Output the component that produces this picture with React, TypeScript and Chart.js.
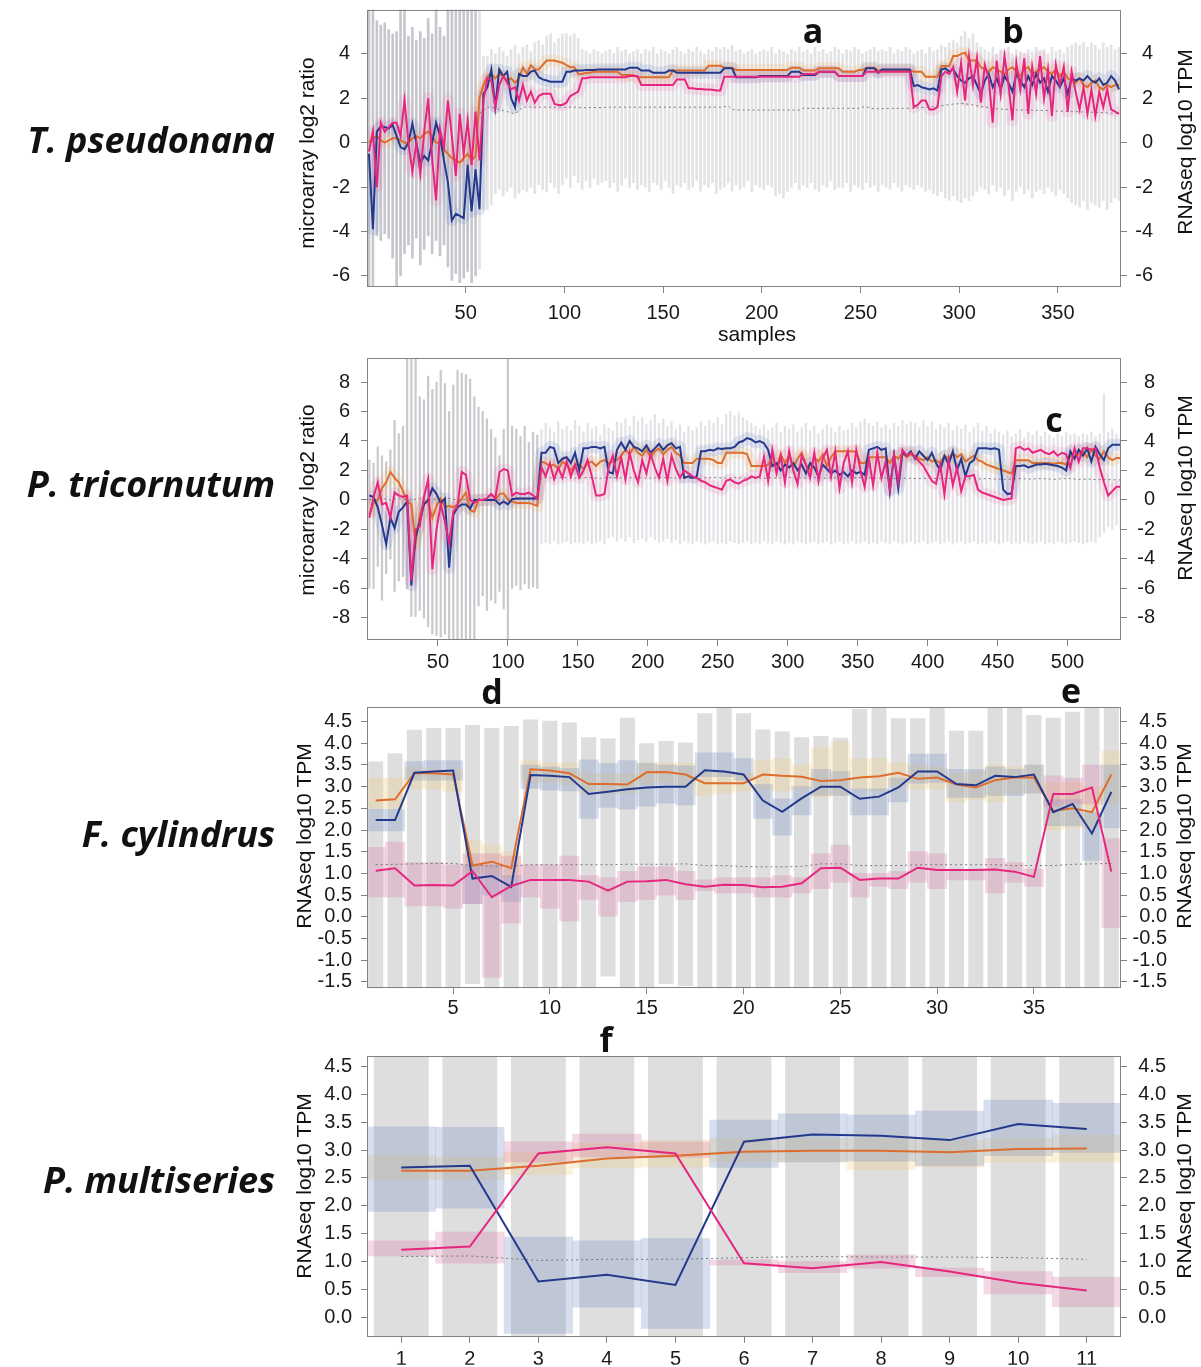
import React, { useEffect, useRef } from "react";
import { Chart, registerables } from "chart.js";

Chart.register(...registerables);

// ---------------- colours ----------------
const BLUE = "rgb(36,56,140)";
const ORANGE = "rgb(222,110,45)";
const PINK = "rgb(230,38,126)";
const MEDIAN = "rgb(120,120,120)";
const BLUE_BAND = "rgba(100,130,195,0.18)";
const ORANGE_BAND = "rgba(240,175,90,0.18)";
const PINK_BAND = "rgba(230,110,165,0.16)";
const BLUE_BOX = "rgba(110,140,195,0.28)";
const ORANGE_BOX = "rgba(245,200,110,0.25)";
const PINK_BOX = "rgba(215,115,160,0.28)";
const GREY_BAR = "rgb(222,222,222)";

const sampleIndex = (n: number, step: number) => Array.from({ length: n }, (_, i) => 1 + i * step);

// ================= Panel 1 : T. pseudonana (every 2nd sample) =================
const P1_X = sampleIndex(191, 2);
const P1_SPLIT = 57;
const P1_BLUE = [
  -0.5, -3.9, 0.5, 0.75, 0.7, 0.65, 0.8, 0.3, -0.2, -0.3,
  0.0, 0.85, 0.0, -0.9, -0.6, -0.8, 0.0, 0.9, 0.3, -0.8,
  -1.8, -3.5, -3.2, -3.3, -3.4, -1.0, -3.1, -1.2, -3.0, 2.2,
  2.5, 3.3, 1.6, 3.3, 3.0, 3.2, 2.0, 1.6, 3.1, 3.0,
  3.0, 3.2, 3.25, 2.95, 2.85, 2.8, 2.75, 2.75, 2.75, 2.75,
  3.2, 3.2, 3.25, 3.25, 3.25, 3.28, 3.28, 3.28, 3.3, 3.3,
  3.3, 3.3, 3.3, 3.3, 3.3, 3.3, 3.38, 3.38, 3.38, 3.25,
  3.25, 3.25, 3.15, 3.15, 3.15, 3.15, 3.25, 3.25, 3.15, 3.15,
  3.15, 3.15, 3.15, 3.15, 3.15, 3.15, 3.15, 3.15, 3.15, 3.15,
  3.35, 3.35, 3.35, 2.95, 2.95, 2.95, 2.95, 2.95, 2.95, 3.0,
  3.0, 3.0, 3.0, 3.0, 3.0, 3.0, 3.0, 3.2, 3.2, 3.2,
  3.05, 3.05, 3.05, 3.05, 3.2, 3.2, 3.2, 3.2, 3.2, 3.0,
  3.0, 3.0, 3.0, 3.0, 3.0, 3.0, 3.35, 3.35, 3.35, 3.15,
  3.3, 3.3, 3.3, 3.3, 3.3, 3.3, 3.3, 3.3, 2.55, 2.6,
  2.5, 2.45, 2.4, 2.45, 2.35, 3.3, 3.35, 3.2, 3.3, 3.0,
  2.8, 2.7, 2.9, 3.0, 2.6, 2.2, 2.8, 3.1, 2.5, 2.9,
  2.4, 3.0, 2.7, 2.3, 3.1, 2.8, 2.5, 3.0, 2.6, 3.1,
  2.7, 2.9, 2.3, 3.0, 2.8, 2.5, 2.9, 2.2, 2.9, 2.8,
  2.9, 2.8, 3.0, 2.8, 2.7, 2.9, 2.6, 2.7, 3.0, 2.8,
  2.4,
];
const P1_ORANGE = [
  0.0, 0.2, 0.3, 0.1, 0.0, 0.1, 0.2, 0.2, 0.1, 0.0,
  0.0, 0.2, 0.3, 0.2, 0.4, 0.5, 0.3, 0.0, 0.0, -0.3,
  -0.5, -0.7, -0.8, -0.9, -0.7, -0.5, -0.8, -0.6, 2.0, 2.6,
  3.0, 3.1, 2.9, 3.1, 3.0, 2.8, 2.9, 2.7, 2.9, 3.4,
  3.1, 3.5, 3.3, 3.3, 3.5, 3.7, 3.7, 3.7, 3.65, 3.6,
  3.5, 3.4, 3.4, 3.1, 3.1, 3.15, 3.15, 3.2, 3.2, 3.2,
  3.2, 3.2, 3.2, 3.2, 3.05, 3.05, 3.05, 3.05, 2.95, 2.95,
  2.95, 2.95, 2.95, 2.95, 2.95, 2.95, 2.95, 3.25, 3.25, 3.25,
  3.25, 3.25, 3.25, 3.25, 3.25, 3.25, 3.47, 3.47, 3.47, 3.47,
  3.38, 3.38, 3.38, 3.27, 3.27, 3.27, 3.27, 3.27, 3.27, 3.27,
  3.27, 3.27, 3.27, 3.27, 3.27, 3.27, 3.27, 3.38, 3.38, 3.38,
  3.25, 3.25, 3.25, 3.25, 3.35, 3.35, 3.35, 3.35, 3.35, 3.35,
  3.2, 3.2, 3.2, 3.2, 3.27, 3.27, 3.38, 3.38, 3.38, 3.25,
  3.27, 3.27, 3.27, 3.27, 3.27, 3.27, 3.27, 3.27, 3.2, 3.2,
  3.2, 2.97, 2.97, 2.97, 2.97, 3.45, 3.45, 3.45, 3.9, 3.9,
  4.0, 4.05, 3.7, 3.7, 3.7, 3.4, 3.3, 3.2, 3.4, 3.3,
  3.2, 3.1, 3.3, 3.4, 3.2, 3.0, 3.3, 3.4, 3.1, 3.2,
  3.3, 3.4, 3.2, 3.1, 3.3, 3.0, 3.2, 2.9, 2.8, 2.7,
  2.9, 2.6, 2.5, 2.7, 2.8, 2.5, 2.4, 2.6, 2.5, 2.6,
  2.6,
];
const P1_PINK = [
  -0.4, 0.5, -2.0, 0.9, 0.5, 0.7, 0.9, 0.9, 0.3, 1.9,
  0.0, -1.3, 0.0, -1.4, 0.5, 2.0, -0.7, -2.6, 0.6, -0.2,
  1.9, 0.3, -1.5, 1.3, -0.5, 1.0, -1.0, 1.4, -0.8, 1.9,
  2.9, 2.8, 1.6, 2.6, 3.0, 2.7, 2.4, 2.5, 1.9, 2.6,
  1.9, 2.3, 1.8, 2.1, 2.2, 2.2, 2.2, 1.75, 1.7, 1.7,
  1.8, 2.1, 2.2, 2.3, 2.9, 2.9, 2.95, 2.95, 2.95, 2.95,
  2.95, 2.95, 2.95, 2.95, 2.95, 2.95, 3.0, 3.0, 3.0, 2.6,
  2.6, 2.6, 2.6, 2.6, 2.6, 2.6, 2.6, 2.6, 2.85, 2.85,
  2.85, 2.45, 2.45, 2.42, 2.42, 2.4, 2.4, 2.38, 2.35, 2.35,
  2.97, 2.97, 2.97, 2.97, 2.97, 2.97, 2.97, 2.97, 2.97, 2.97,
  2.97, 2.97, 2.97, 2.97, 2.97, 2.97, 2.97, 2.97, 2.97, 2.97,
  3.1, 3.1, 3.1, 3.1, 3.2, 3.2, 3.2, 3.2, 3.2, 3.0,
  3.0, 3.0, 3.0, 3.0, 3.0, 3.0, 3.2, 3.2, 3.2, 3.2,
  3.2, 3.2, 3.2, 3.2, 3.2, 3.2, 3.2, 3.2, 1.6, 1.7,
  1.9, 1.9, 1.5, 1.5, 1.6, 3.0, 3.2, 3.1, 3.4, 2.3,
  3.6, 1.9, 3.9, 2.6, 3.8, 1.8, 3.5, 2.9, 0.9, 3.7,
  2.2, 3.9, 2.6, 1.0, 3.6, 2.4, 3.8, 1.3, 3.4, 2.2,
  3.9, 2.0, 3.3, 1.2, 3.5, 2.6, 3.4, 1.4, 3.2, 2.3,
  1.5, 2.5, 1.3, 2.4, 1.2, 2.3, 1.6, 2.4, 1.5, 1.4,
  1.3,
];
const P1_MEDIAN: (number | null)[] = [
  null, null, null, null, null, null, null, null, null, null,
  null, null, null, null, null, null, null, null, null, null,
  null, null, null, null, null, null, null, null, 1.32, 1.45,
  1.6, 1.6, 1.55, 1.5, 1.45, 1.4, 1.35, 1.3, 1.45, 1.6,
  1.6, 1.6, 1.6, 1.6, 1.6, 1.6, 1.6, 1.6, 1.6, 1.6,
  1.6, 1.6, 1.6, 1.58, 1.58, 1.58, 1.58, 1.58, 1.58, 1.58,
  1.6, 1.6, 1.6, 1.6, 1.6, 1.6, 1.6, 1.6, 1.6, 1.6,
  1.6, 1.6, 1.6, 1.6, 1.6, 1.6, 1.6, 1.6, 1.6, 1.6,
  1.6, 1.6, 1.6, 1.6, 1.6, 1.6, 1.6, 1.6, 1.6, 1.6,
  1.62, 1.65, 1.5, 1.47, 1.47, 1.47, 1.47, 1.47, 1.47, 1.47,
  1.47, 1.47, 1.47, 1.47, 1.47, 1.47, 1.47, 1.47, 1.47, 1.47,
  1.55, 1.55, 1.55, 1.55, 1.55, 1.55, 1.55, 1.55, 1.55, 1.55,
  1.55, 1.55, 1.55, 1.55, 1.55, 1.6, 1.62, 1.55, 1.53, 1.53,
  1.53, 1.53, 1.55, 1.55, 1.55, 1.55, 1.55, 1.55, 1.55, 1.57,
  1.58, 1.6, 1.6, 1.63, 1.65, 1.66, 1.7, 1.71, 1.74, 1.75,
  1.77, 1.76, 1.72, 1.7, 1.66, 1.64, 1.6, 1.58, 1.55, 1.53,
  1.52, 1.5, 1.5, 1.48, 1.47, 1.47, 1.47, 1.47, 1.46, 1.46,
  1.46, 1.45, 1.45, 1.44, 1.43, 1.42, 1.42, 1.41, 1.4, 1.4,
  1.39, 1.38, 1.38, 1.37, 1.36, 1.35, 1.35, 1.34, 1.33, 1.33,
  1.32,
];
const P1_HI = [
  6.5, 6.5, 5.5, 5.3, 5.4, 5.1, 4.9, 5.0, 6.5, 6.5,
  4.8, 5.2, 4.6, 5.0, 4.7, 5.6, 4.9, 6.5, 5.2, 4.8,
  6.5, 6.5, 6.5, 6.5, 6.5, 6.5, 6.5, 6.5, 6.5, 3.9,
  3.9, 4.2, 4.0, 4.3, 4.1, 3.9, 4.2, 4.4, 4.0, 4.3,
  4.4, 4.1, 4.5, 4.6, 4.4, 4.8, 4.9, 4.5, 4.7, 4.9,
  4.9, 4.8, 4.9, 4.7, 4.2, 4.1, 4.0, 4.2, 4.1, 4.0,
  4.1, 4.2, 4.0, 4.3, 4.1, 4.2, 4.0, 4.1, 4.2, 4.0,
  4.2, 4.1, 4.3, 4.0, 4.2, 4.1, 4.0, 4.2, 4.3, 4.1,
  4.0, 4.2, 4.1, 4.3, 4.1, 4.0, 4.2, 4.1, 4.3, 4.2,
  4.3, 4.2, 4.4, 4.1, 4.2, 4.0, 4.1, 4.2, 4.0, 4.1,
  4.2, 4.1, 4.3, 4.0, 4.2, 4.1, 4.0, 4.2, 4.1, 4.3,
  4.1, 4.2, 4.0, 4.3, 4.1, 4.2, 4.0, 4.1, 4.3, 4.2,
  4.0, 4.2, 4.1, 4.3, 4.2, 4.0, 4.1, 4.2, 4.3, 4.1,
  4.2, 4.1, 4.3, 4.0, 4.2, 4.1, 4.3, 4.2, 4.0, 4.1,
  4.2, 4.0, 4.3, 4.1, 4.2, 4.4, 4.3, 4.5, 4.6, 4.5,
  4.8, 5.0, 4.7, 4.9, 4.5, 4.3, 4.2, 4.1, 4.3, 4.0,
  4.2, 4.1, 4.3, 4.0, 4.2, 4.1, 4.0, 4.2, 4.1, 4.3,
  4.1, 4.2, 4.0, 4.3, 4.1, 4.2, 4.0, 4.3, 4.4, 4.5,
  4.4, 4.5, 4.3, 4.5, 4.4, 4.2, 4.5, 4.3, 4.4, 4.2,
  4.3,
];
const P1_LO = [
  -6.6, -6.6, -4.2, -4.4, -4.1, -4.3, -5.2, -6.6, -6.0, -5.0,
  -4.6, -5.2, -4.3, -5.5, -4.8, -4.2, -5.0, -4.4, -5.1, -4.6,
  -5.6, -6.2, -5.9, -6.3, -6.1, -5.8, -6.3, -6.0, -5.7, -3.0,
  -3.0, -2.8, -2.3, -2.1, -2.4, -2.2, -2.0, -2.5, -2.3, -2.1,
  -2.2, -2.0, -2.3, -1.9, -2.1, -2.2, -1.8, -2.0, -2.3, -1.9,
  -1.6, -2.0, -1.5, -1.8, -2.1, -1.7, -2.0, -1.6, -1.9, -1.8,
  -1.7, -2.0, -1.8, -2.2, -1.9, -1.6, -2.0, -1.8, -2.1, -1.9,
  -2.0, -2.2, -1.8, -1.9, -2.1, -1.7, -2.0, -2.3, -1.9, -2.0,
  -1.8, -2.1, -2.0, -1.7, -2.2, -1.9, -2.0, -1.8, -2.3, -2.1,
  -2.0, -1.8, -2.2, -1.9, -2.1, -2.0, -1.7, -2.2, -1.9, -2.0,
  -2.1, -1.9, -2.0, -2.4, -2.3, -2.5, -2.2, -2.0, -1.8, -2.1,
  -1.9, -2.0, -1.8, -2.1, -2.2, -1.9, -2.0, -1.7, -2.1, -2.0,
  -2.0, -1.8, -2.2, -1.9, -2.0, -2.1, -1.8, -2.0, -1.9, -2.2,
  -1.9, -2.0, -2.1, -1.8, -2.0, -2.2, -1.9, -2.0, -2.1, -1.9,
  -2.0, -2.2, -2.1, -2.3, -2.4, -2.2, -2.5, -2.6, -2.4, -2.6,
  -2.7, -2.5, -2.6, -2.4, -2.2, -2.0, -2.1, -2.3, -1.9, -2.2,
  -2.0, -2.4, -2.1, -2.6, -2.2, -2.0, -2.3, -2.1, -2.5, -2.2,
  -2.1, -2.3, -2.0, -2.2, -2.4, -2.1, -2.3, -2.5, -2.7, -2.8,
  -2.9, -2.6, -3.0, -2.7, -2.8, -2.9, -2.6, -3.0, -2.7, -2.5,
  -2.6,
];
const P1_X_TICKS = [50, 100, 150, 200, 250, 300, 350];
const P1_Y_TICKS = [-6, -4, -2, 0, 2, 4];

// ================= Panel 2 : P. tricornutum (every 3rd sample) =================
const P2_X = sampleIndex(180, 3);
const P2_SPLIT = 122;
const P2_BLUE = [
  0.3, 0.2, -0.5, -1.7, -3.0, -1.2, -1.9, -0.8, -0.5, -0.1,
  -5.8, -2.5, -1.5, -0.3, 0.0, 0.8, 0.4, -0.2, 0.1, -4.6,
  -1.0, -0.5, -0.3, -0.3, -0.6, 0.0, 0.0, 0.0, 0.0, 0.0,
  0.0, -0.3, -0.1, -0.3, 0.05, 0.1, 0.1, 0.1, 0.1, 0.1,
  0.1, 3.2, 3.2, 3.6, 3.5, 2.5, 2.8, 2.9, 2.5, 3.2,
  2.0, 3.5, 3.5, 3.6, 3.6, 3.5, 3.6, 1.9, 1.8, 3.4,
  3.9, 3.4, 4.0, 3.6, 3.5, 3.3, 3.7, 3.2, 3.5, 3.8,
  3.4, 3.7, 3.85, 3.5, 3.6, 1.5, 1.6, 1.5, 1.6, 3.3,
  3.3, 3.4, 3.35, 3.5, 3.45, 3.5, 3.5, 3.6, 3.9, 4.0,
  4.2, 4.1, 3.9, 4.0, 3.85, 3.4, 2.3, 2.5, 2.0, 2.4,
  2.2, 2.5, 2.0, 2.4, 1.8, 2.5, 2.2, 1.6, 2.4, 2.1,
  1.8, 2.0, 1.7, 1.9, 1.6, 2.0, 1.8, 1.9, 1.7, 3.4,
  3.5, 3.6, 3.4, 3.5, 0.6, 3.0, 0.8, 3.2, 3.0, 3.3,
  2.8, 3.3, 3.0, 2.7, 3.2, 2.5, 2.0, 3.0, 2.4, 3.3,
  2.0, 2.8, 1.6, 2.5, 2.7, 3.5, 3.5, 3.5, 3.45, 3.5,
  3.4, 0.7, 0.4, 0.45, 2.3, 2.3, 2.35, 2.2, 2.3, 2.4,
  2.4, 2.45, 2.4, 2.35, 2.3, 2.2, 2.0, 3.3, 2.8, 3.4,
  3.0, 3.5, 2.6, 3.6, 3.1, 2.7, 3.5, 3.75, 3.75, 3.75,
];
const P2_ORANGE = [
  -1.0, -0.2, 0.0, 0.8, 1.2, 1.9, 1.5, 1.2, 0.6, -0.1,
  -0.3, -3.0, -1.0, -0.1, -0.2, -1.2, -0.4, 0.1, -0.5, -0.4,
  -0.5, -0.3, 0.1, 0.5, -0.7, -0.8, 0.0, 0.0, 0.0, 0.0,
  0.0, 0.4, 0.45, 0.0, -0.1, -0.2, -0.2, -0.2, -0.2, -0.3,
  -0.4, 2.6, 2.5, 2.3, 2.4, 2.1, 2.6, 2.4, 2.0, 2.4,
  2.4, 2.1, 2.5, 2.6, 2.3, 2.6, 2.7, 2.5, 2.6, 2.7,
  3.0, 3.4, 3.1, 3.6, 3.2, 3.0, 3.4, 2.9, 3.3, 3.5,
  3.1, 3.4, 3.6, 3.2, 3.0, 2.5, 2.5, 2.5, 2.8, 2.8,
  2.8, 2.8, 2.7, 2.5, 2.5, 3.2, 3.2, 3.2, 3.2, 3.2,
  3.1, 2.3, 2.3, 2.3, 2.3, 2.4, 2.9, 2.2, 3.1, 2.5,
  3.0, 2.2, 2.8, 3.2, 2.4, 2.0, 2.9, 2.6, 3.1, 2.3,
  2.9, 3.3, 3.3, 3.3, 3.3, 3.3, 3.25, 2.5, 2.5, 2.9,
  2.9, 2.9, 2.9, 2.9, 2.5, 3.0, 2.8, 3.2, 2.9, 3.1,
  3.0, 2.8, 2.7, 2.9, 2.6, 2.7, 2.5, 3.0, 2.8, 3.2,
  2.9, 3.1, 2.6, 2.8, 3.0, 2.7, 2.6, 2.4, 2.3, 2.2,
  2.1, 2.0, 1.9, 1.8, 2.7, 2.7, 2.7, 2.7, 2.5, 2.5,
  2.5, 2.5, 2.5, 2.45, 2.5, 2.5, 2.4, 3.0, 3.0, 3.1,
  3.3, 2.9, 3.4, 3.0, 2.8, 3.3, 2.9, 2.7, 2.85, 2.85,
];
const P2_PINK = [
  -1.2, 0.2, 1.2, -0.3, -0.2, -1.2, 0.5, 0.3, 0.2, 0.3,
  -5.5, -2.0, -1.8, 0.2, 1.4, -4.7, -2.0, -0.3, -1.5, -2.9,
  -0.8, -0.4, 1.9, 1.7, 0.0, -0.2, 0.0, 0.0, 0.1, 0.4,
  0.1, 1.9, 2.1, 2.0, 0.3, 0.5, 0.4, 0.4, 0.5, 0.3,
  0.1, 2.2, 1.6, 2.5, 1.4, 2.2, 1.5, 2.6, 1.6, 2.4,
  1.5, 2.0, 2.7, 1.6, 0.3, 0.3, 0.4, 2.2, 3.0, 1.6,
  2.9, 1.4, 3.2, 2.0, 1.2, 2.7, 1.8, 3.1, 2.2, 1.5,
  2.8, 1.3, 3.0, 2.1, 1.5, 2.0, 1.8, 1.6, 1.5, 1.3,
  1.2, 1.0, 0.9, 0.8, 0.7, 1.3, 1.4, 1.2, 1.1, 1.3,
  1.4, 1.6, 1.5, 1.6, 2.9, 1.3, 3.4, 1.8, 3.0, 1.2,
  3.3, 2.0, 1.1, 3.0, 2.4, 1.5, 3.2, 1.3, 2.8, 3.4,
  1.6, 3.3, 0.8, 2.5, 3.3, 1.2, 3.4, 2.0, 0.9, 2.8,
  1.0, 3.2, 1.5, 2.6, 0.7, 3.0, 1.2, 3.4, 3.0, 3.2,
  2.9, 2.6, 2.3, 1.8, 1.3, 1.1, 2.4, 0.4, 2.7, 1.0,
  2.2, 0.6, 1.6, 1.6, 1.7, 0.7, 0.5, 0.4, 0.3, 0.2,
  0.1, 0.0, 0.05, 0.1, 3.5, 3.6, 3.4, 3.5, 3.2, 3.3,
  3.4, 3.2, 3.1, 3.3, 3.0, 3.2, 3.1, 2.2, 3.5, 2.6,
  3.5, 3.5, 3.4, 3.5, 2.2, 1.2, 0.3, 0.6, 0.9, 0.9,
];
const P2_MEDIAN = [
  0.05, 0.0, 0.05, 0.1, 0.05, 0.0, 0.05, 0.1, 0.05, 0.0,
  0.0, 0.05, 0.1, 0.05, 0.0, 0.05, 0.05, 0.0, 0.05, 0.1,
  0.05, 0.0, 0.05, 0.05, 0.0, 0.05, 0.1, 0.05, 0.0, 0.05,
  0.05, 0.0, 0.05, 0.1, 0.05, 0.05, 0.0, 0.05, 0.05, 0.0,
  0.05, 1.5, 1.52, 1.5, 1.48, 1.5, 1.52, 1.5, 1.5, 1.48,
  1.5, 1.5, 1.52, 1.5, 1.48, 1.47, 1.5, 1.5, 1.52, 1.5,
  1.5, 1.48, 1.5, 1.52, 1.5, 1.5, 1.48, 1.47, 1.5, 1.5,
  1.52, 1.5, 1.5, 1.48, 1.5, 1.5, 1.47, 1.45, 1.45, 1.47,
  1.5, 1.5, 1.52, 1.5, 1.5, 1.48, 1.5, 1.52, 1.5, 1.5,
  1.48, 1.47, 1.45, 1.45, 1.47, 1.5, 1.5, 1.48, 1.5, 1.5,
  1.52, 1.5, 1.5, 1.48, 1.5, 1.5, 1.52, 1.5, 1.48, 1.47,
  1.5, 1.5, 1.5, 1.48, 1.47, 1.5, 1.5, 1.52, 1.5, 1.5,
  1.48, 1.47, 1.48, 1.5, 1.47, 1.45, 1.45, 1.47, 1.48, 1.47,
  1.45, 1.45, 1.47, 1.48, 1.47, 1.45, 1.44, 1.45, 1.47, 1.45,
  1.44, 1.45, 1.45, 1.44, 1.42, 1.42, 1.44, 1.45, 1.44, 1.42,
  1.42, 1.4, 1.4, 1.42, 1.44, 1.45, 1.44, 1.42, 1.42, 1.44,
  1.45, 1.44, 1.42, 1.4, 1.42, 1.44, 1.45, 1.44, 1.42, 1.4,
  1.4, 1.42, 1.4, 1.38, 1.38, 1.4, 1.38, 1.37, 1.36, 1.36,
];
const P2_HI = [
  2.7, 2.5, 3.6, 3.0, 2.6, 3.4, 5.4, 4.5, 5.0, 9.8,
  9.8, 9.8, 7.0, 6.8, 8.4, 7.5, 8.0, 8.8, 7.9, 6.0,
  7.8, 8.8, 8.6, 8.5, 8.2, 7.0, 6.3, 6.0, 5.5, 4.8,
  4.2, 3.0, 4.8, 9.8, 5.0, 4.8, 4.3, 5.0, 3.9, 4.6,
  4.4, 4.8, 5.2, 4.9, 4.6, 5.3, 4.8, 5.0, 4.7, 5.4,
  5.0, 4.6, 5.2, 4.8, 5.0, 4.4, 5.1, 4.9, 4.7, 5.3,
  5.2, 5.5, 5.0, 5.7, 5.3, 5.6, 5.1, 5.4, 5.8, 5.2,
  5.5, 5.0, 5.3, 4.8, 5.1, 4.6, 5.0, 4.7, 4.9, 5.3,
  5.0, 5.4, 5.2, 5.6, 5.1, 5.8, 6.0, 5.7, 5.9, 5.6,
  5.4, 5.2, 5.0, 4.8, 5.1, 4.7, 4.9, 5.2, 4.6, 5.0,
  4.8, 5.1, 4.6, 4.9, 5.2, 4.7, 5.0, 4.5, 4.8, 5.1,
  4.9, 4.6, 5.0, 4.7, 4.8, 5.2, 4.9, 5.3, 5.5, 5.2,
  5.0, 5.3, 4.9, 5.1, 4.8, 5.2, 5.0, 5.4, 5.1, 5.3,
  5.2, 4.9, 5.4, 5.0, 5.3, 4.8, 5.1, 4.9, 5.2, 4.7,
  5.0, 4.8, 5.1, 4.6, 4.9, 5.2, 4.7, 5.0, 4.5, 4.8,
  4.6, 4.4, 4.7, 4.3, 4.5, 4.8, 4.2, 4.6, 4.4, 4.7,
  4.3, 4.6, 4.4, 4.2, 4.5, 4.3, 4.6, 4.4, 4.5, 4.3,
  4.5, 4.4, 4.6, 4.3, 4.5, 7.2, 4.6, 4.8, 4.5, 4.4,
];
const P2_LO = [
  -6.0, -6.0, -4.5, -6.8, -5.0, -4.0, -6.2, -5.5, -5.2, -6.0,
  -7.9, -7.9, -7.5, -8.0, -8.6, -9.1, -9.2, -9.3, -9.1, -9.4,
  -9.4, -9.6, -9.6, -9.5, -9.4, -9.6, -7.2, -6.5, -7.5, -6.8,
  -7.0, -6.2, -7.4, -9.6, -6.0, -5.8, -6.1, -5.7, -6.0, -5.9,
  -6.0, -3.0, -2.9, -3.0, -2.8, -3.0, -2.9, -2.8, -3.0, -2.9,
  -2.9, -3.0, -2.8, -3.0, -2.9, -2.8, -3.0, -2.6, -2.5, -2.8,
  -2.6, -2.8, -2.5, -2.9, -2.7, -2.6, -2.8, -2.5, -2.7, -2.9,
  -2.8, -2.6, -2.9, -2.7, -3.0, -2.8, -2.9, -3.0, -2.8, -2.9,
  -3.0, -2.9, -2.8, -3.0, -2.9, -3.0, -2.8, -2.9, -3.0, -2.9,
  -2.8, -3.0, -2.9, -3.0, -2.8, -2.9, -3.0, -2.8, -2.9, -3.0,
  -2.9, -3.0, -2.8, -2.9, -3.0, -2.9, -2.8, -3.0, -2.9, -2.8,
  -3.0, -2.9, -2.8, -3.0, -2.9, -2.8, -3.0, -2.9, -2.8, -3.0,
  -2.9, -3.0, -2.8, -2.9, -3.0, -2.8, -2.9, -3.0, -2.9, -2.8,
  -3.0, -2.9, -2.8, -3.0, -2.9, -2.8, -3.0, -2.9, -2.8, -3.0,
  -2.9, -2.8, -3.0, -2.9, -2.8, -3.0, -2.9, -3.0, -2.8, -2.9,
  -3.0, -2.9, -2.8, -3.0, -2.9, -3.0, -2.8, -2.9, -3.0, -2.9,
  -2.8, -3.0, -2.9, -3.0, -2.8, -2.9, -3.0, -2.9, -2.8, -2.9,
  -3.0, -2.9, -2.8, -2.9, -2.5, -2.2, -1.8, -2.0, -1.7, -1.9,
];
const P2_X_TICKS = [50, 100, 150, 200, 250, 300, 350, 400, 450, 500];
const P2_Y_TICKS = [-8, -6, -4, -2, 0, 2, 4, 6, 8];

// ================= Panel 3 : F. cylindrus =================
const P3_X = sampleIndex(39, 1);
const P3_BLUE = [
  2.23, 2.23, 3.32, 3.35, 3.37, 0.88, 0.94, 0.69, 3.27, 3.25,
  3.22, 2.83, 2.88, 2.94, 2.98, 3.0, 3.0, 3.38, 3.35, 3.28,
  2.68, 2.42, 2.73, 3.0, 3.0, 2.72, 2.77, 2.98, 3.35, 3.35,
  3.06, 3.03, 3.25, 3.22, 3.28, 2.41, 2.6, 1.92, 2.88,
];
const P3_ORANGE = [
  2.68, 2.71, 3.31, 3.31, 3.28, 1.18, 1.27, 1.12, 3.4, 3.37,
  3.31, 3.06, 3.06, 3.05, 3.33, 3.34, 3.28, 3.08, 3.08, 3.08,
  3.28, 3.25, 3.23, 3.13, 3.15, 3.21, 3.24, 3.32, 3.18, 3.21,
  3.05, 2.98, 3.15, 3.21, 3.21, 2.44, 2.5, 2.41, 3.28,
];
const P3_PINK = [
  1.06, 1.12, 0.72, 0.73, 0.72, 1.05, 0.45, 0.71, 0.85, 0.85,
  0.85, 0.81, 0.6, 0.81, 0.82, 0.85, 0.75, 0.69, 0.74, 0.73,
  0.68, 0.69, 0.77, 1.12, 1.13, 0.85, 0.88, 0.88, 1.13, 1.08,
  1.08, 1.08, 1.09, 1.04, 0.92, 2.83, 2.83, 2.98, 1.04,
];
const P3_MEDIAN = [
  1.2, 1.21, 1.22, 1.23, 1.23, 1.18, 1.17, 1.17, 1.2, 1.2,
  1.2, 1.2, 1.2, 1.21, 1.21, 1.21, 1.22, 1.18, 1.18, 1.16,
  1.15, 1.15, 1.16, 1.22, 1.22, 1.18, 1.18, 1.18, 1.2, 1.2,
  1.2, 1.2, 1.2, 1.18, 1.18, 1.18, 1.21, 1.22, 1.23,
];
const P3_HI = [
  3.58, 3.77, 4.31, 4.35, 4.35, 4.42, 4.35, 4.4, 4.55, 4.52,
  4.48, 4.14, 4.11, 4.59, 4.0, 4.05, 4.02, 4.69, 4.9, 4.69,
  4.32, 4.27, 4.14, 4.17, 4.13, 4.79, 4.9, 4.58, 4.58, 4.9,
  4.29, 4.29, 4.9, 4.9, 4.65, 4.59, 4.73, 4.9, 4.9,
];
const P3_LO = [
  -1.8, -1.8, -1.8, -1.8, -1.8, -1.55, -1.8, -1.8, -1.8, -1.8,
  -1.8, -1.8, -1.38, -1.8, -1.8, -1.55, -1.6, -1.8, -1.8, -1.8,
  -1.8, -1.8, -1.8, -1.8, -1.8, -1.8, -1.8, -1.8, -1.8, -1.8,
  -1.8, -1.8, -1.8, -1.8, -1.8, -1.8, -1.8, -1.8, -1.8,
];
const P3_BLUE_BOX = [
  [1.98, 2.48], [1.98, 2.48], [3.15, 3.58], [3.15, 3.6], [3.15, 3.6], [0.3, 1.2], [0.5, 1.2], [0.35, 0.95], [2.96, 3.5], [2.92, 3.45],
  [2.9, 3.42], [2.27, 3.62], [2.52, 3.54], [2.48, 3.6], [2.55, 3.54], [2.62, 3.5], [2.58, 3.48], [3.23, 3.78], [3.23, 3.78], [3.15, 3.65],
  [2.27, 3.05], [1.88, 2.72], [2.35, 3.0], [2.8, 3.4], [2.8, 3.35], [2.35, 2.95], [2.35, 2.95], [2.65, 3.2], [3.08, 3.75], [3.1, 3.75],
  [2.75, 3.4], [2.75, 3.4], [2.8, 3.45], [2.8, 3.4], [2.85, 3.5], [2.1, 2.7], [2.1, 2.7], [1.3, 2.4], [2.05, 3.5],
];
const P3_ORANGE_BOX = [
  [2.5, 3.2], [2.5, 3.2], [2.95, 3.45], [2.95, 3.4], [2.88, 3.4], [1.0, 1.75], [1.0, 1.65], [0.9, 1.5], [3.1, 3.6], [3.1, 3.55],
  [3.05, 3.55], [2.85, 3.3], [2.85, 3.3], [2.85, 3.3], [3.05, 3.55], [3.1, 3.55], [3.0, 3.55], [2.8, 3.35], [2.85, 3.35], [2.9, 3.3],
  [2.95, 3.6], [2.9, 3.65], [2.95, 3.5], [2.75, 3.9], [2.8, 4.05], [2.95, 3.65], [2.9, 3.65], [3.0, 3.55], [2.95, 3.5], [2.95, 3.45],
  [2.65, 3.3], [2.7, 3.35], [2.65, 3.5], [2.85, 3.45], [2.85, 3.5], [2.0, 3.1], [2.05, 3.1], [2.05, 3.0], [2.6, 3.82],
];
const P3_PINK_BOX = [
  [0.45, 1.6], [0.45, 1.72], [0.25, 1.25], [0.25, 1.25], [0.2, 1.2], [0.3, 1.45], [-1.4, 1.45], [-0.15, 1.4], [0.45, 1.2], [0.2, 1.2],
  [-0.1, 1.4], [0.4, 0.95], [0.0, 0.9], [0.35, 1.05], [0.4, 1.15], [0.5, 1.15], [0.4, 1.05], [0.6, 0.85], [0.55, 0.9], [0.55, 0.9],
  [0.45, 0.9], [0.45, 0.95], [0.55, 0.9], [0.65, 1.45], [0.8, 1.65], [0.45, 1.0], [0.7, 1.0], [0.65, 1.05], [0.8, 1.5], [0.65, 1.45],
  [0.85, 1.1], [0.85, 1.1], [0.55, 1.35], [0.8, 1.25], [0.7, 1.1], [2.55, 3.25], [2.6, 3.2], [2.6, 3.5], [-0.25, 1.8],
];
const P3_X_TICKS = [5, 10, 15, 20, 25, 30, 35];
const P3_Y_TICKS = [-1.5, -1.0, -0.5, 0.0, 0.5, 1.0, 1.5, 2.0, 2.5, 3.0, 3.5, 4.0, 4.5];

// ================= Panel 4 : P. multiseries =================
const P4_X = sampleIndex(11, 1);
const P4_BLUE = [2.69, 2.72, 0.64, 0.76, 0.58, 3.15, 3.28, 3.26, 3.18, 3.47, 3.38];
const P4_ORANGE = [2.63, 2.63, 2.72, 2.85, 2.9, 2.97, 2.99, 2.99, 2.96, 3.02, 3.03];
const P4_PINK = [1.21, 1.27, 2.94, 3.05, 2.94, 0.97, 0.88, 0.99, 0.82, 0.62, 0.48];
const P4_MEDIAN = [1.09, 1.1, 1.02, 1.04, 1.04, 1.07, 1.09, 1.08, 1.08, 1.07, 1.04];
const P4_HI = [5.0, 5.0, 5.0, 5.0, 5.0, 5.0, 5.0, 5.0, 5.0, 5.0, 5.0];
const P4_LO = [-0.6, -0.6, -0.6, -0.6, -0.6, -0.6, -0.6, -0.6, -0.6, -0.6, -0.6];
const P4_BLUE_BOX = [[1.9, 3.42], [1.96, 3.41], [-0.29, 1.44], [0.18, 1.37], [-0.2, 1.41], [2.69, 3.54], [2.79, 3.65], [2.8, 3.63], [2.72, 3.7], [2.9, 3.9], [2.96, 3.84]];
const P4_ORANGE_BOX = [[2.48, 2.9], [2.48, 2.87], [2.56, 2.97], [2.68, 3.12], [2.7, 3.18], [2.79, 3.21], [2.79, 3.21], [2.65, 3.21], [2.7, 3.18], [2.78, 3.21], [2.79, 3.27]];
const P4_PINK_BOX = [[1.1, 1.37], [0.97, 1.53], [2.79, 3.15], [2.88, 3.29], [2.87, 3.15], [0.94, 1.03], [0.8, 1.0], [0.88, 1.12], [0.73, 0.88], [0.42, 0.82], [0.19, 0.72]];
const P4_X_TICKS = [1, 2, 3, 4, 5, 6, 7, 8, 9, 10, 11];
const P4_Y_TICKS = [0.0, 0.5, 1.0, 1.5, 2.0, 2.5, 3.0, 3.5, 4.0, 4.5];

// ---------------- helpers ----------------
const pts = (xs: number[], ys: (number | null)[]) => xs.map((x, i) => ({ x, y: ys[i] }));
const rng = (xs: number[], lo: number[], hi: number[]) => xs.map((x, i) => ({ x, y: [lo[i], hi[i]] }));
const boxes = (xs: number[], pairs: number[][]) => xs.map((x, i) => ({ x, y: [pairs[i][0], pairs[i][1]] }));

function line(data: any[], color: string, width: number, order: number, extra: any = {}) {
  return { type: "line", data, borderColor: color, borderWidth: width, pointRadius: 0, pointHoverRadius: 0, fill: false, tension: 0, order, ...extra };
}
function bar(data: any[], color: any, order: number, extra: any = {}) {
  return { type: "bar", data, backgroundColor: color, borderWidth: 0, grouped: false, order, ...extra };
}

type TextItem = { t: string; x: number; y: number; font: string; align?: CanvasTextAlign; base?: CanvasTextBaseline; rot?: boolean };

const TICK_FONT = { family: "'Liberation Sans', Arial, Helvetica, sans-serif", size: 20 };
const TITLE_FONT = "21px 'Liberation Sans', Arial, Helvetica, sans-serif";
const SPECIES_FONT = "italic 700 36px 'Open Sans', 'Noto Sans', sans-serif";
const LETTER_FONT = "700 34px 'Open Sans', 'Noto Sans', sans-serif";
const AXIS_GREY = "rgb(130,130,130)";

const framePlugin = {
  id: "frame",
  afterDatasetsDraw(chart: any) {
    const { ctx, chartArea } = chart;
    const l = Math.round(chartArea.left) + 0.5;
    const t = Math.round(chartArea.top) + 0.5;
    const r = Math.round(chartArea.right) - 0.5;
    const b = Math.round(chartArea.bottom) - 0.5;
    ctx.save();
    ctx.strokeStyle = AXIS_GREY;
    ctx.lineWidth = 1;
    ctx.strokeRect(l, t, r - l, b - t);
    ctx.restore();
  },
};

function textPlugin(items: TextItem[]) {
  return {
    id: "texts",
    afterDraw(chart: any) {
      const ctx = chart.ctx as CanvasRenderingContext2D;
      ctx.save();
      ctx.fillStyle = "#111";
      for (const it of items) {
        ctx.font = it.font;
        ctx.textAlign = it.align || "center";
        ctx.textBaseline = it.base || "alphabetic";
        if (it.rot) {
          ctx.save();
          ctx.translate(it.x, it.y);
          ctx.rotate(-Math.PI / 2);
          ctx.textBaseline = "middle";
          ctx.fillText(it.t, 0, 0);
          ctx.restore();
        } else {
          ctx.fillText(it.t, it.x, it.y);
        }
      }
      ctx.restore();
    },
  };
}

type Panel = {
  top: number; height: number;
  xMin: number; xMax: number; xTicks: number[];
  yMin: number; yMax: number; yTicks: number[]; decimals: number;
  padding: { left: number; right: number; top: number; bottom: number };
  xAxisH: number; leftW: number; rightW: number; xTickPad: number; yTickPad: number;
  datasets: any[]; texts: TextItem[];
};

function bigPanelDatasets(xs: number[], blue: number[], orange: number[], pink: number[], med: (number | null)[], lo: number[], hi: number[], split: number, dark: string, light: string, thick: number) {
  return [
    line(pts(xs, pink), PINK, 2, 1),
    line(pts(xs, blue), BLUE, 2, 2),
    line(pts(xs, orange), ORANGE, 2, 3),
    line(pts(xs, med), MEDIAN, 1, 4, { borderDash: [2, 3] }),
    line(pts(xs, pink), PINK_BAND, 12, 6, { borderJoinStyle: "round" }),
    line(pts(xs, blue), BLUE_BAND, 12, 7, { borderJoinStyle: "round" }),
    line(pts(xs, orange), ORANGE_BAND, 12, 8, { borderJoinStyle: "round" }),
    bar(rng(xs, lo, hi), (c: any) => (c.raw && c.raw.x < split ? dark : light), 20, { barThickness: thick }),
  ];
}

function smallPanelDatasets(xs: number[], blue: number[], orange: number[], pink: number[], med: number[], lo: number[], hi: number[], bb: number[][], ob: number[][], pb: number[][], greyPct: number) {
  return [
    line(pts(xs, pink), PINK, 2, 1),
    line(pts(xs, blue), BLUE, 2, 2),
    line(pts(xs, orange), ORANGE, 2, 3),
    line(pts(xs, med), MEDIAN, 1, 4, { borderDash: [2, 3] }),
    bar(boxes(xs, pb), PINK_BOX, 10, { categoryPercentage: 1, barPercentage: 1 }),
    bar(boxes(xs, bb), BLUE_BOX, 11, { categoryPercentage: 1, barPercentage: 1 }),
    bar(boxes(xs, ob), ORANGE_BOX, 12, { categoryPercentage: 1, barPercentage: 1 }),
    bar(rng(xs, lo, hi), GREY_BAR, 20, { categoryPercentage: 1, barPercentage: greyPct }),
  ];
}

function buildPanels(): Panel[] {
  const p1Top = 0, p2Top = 350, p3Top = 670, p4Top = 1020;
  return [
    {
      top: p1Top, height: 350, xMin: 0, xMax: 382, xTicks: P1_X_TICKS, yMin: -6.5, yMax: 6.0, yTicks: P1_Y_TICKS, decimals: 0,
      padding: { left: 290, right: 48, top: 9.5, bottom: 23 }, xAxisH: 40, leftW: 77, rightW: 32, xTickPad: 8, yTickPad: 11,
      datasets: bigPanelDatasets(P1_X, P1_BLUE, P1_ORANGE, P1_PINK, P1_MEDIAN, P1_LO, P1_HI, P1_SPLIT, "rgb(198,199,205)", "rgb(227,227,230)", 2),
      texts: [
        { t: "T. pseudonana", x: 275, y: 153 - p1Top, font: SPECIES_FONT, align: "right" },
        { t: "a", x: 813, y: 43 - p1Top, font: LETTER_FONT },
        { t: "b", x: 1013, y: 43 - p1Top, font: LETTER_FONT },
        { t: "microarray log2 ratio", x: 308, y: 153 - p1Top, font: TITLE_FONT, rot: true },
        { t: "RNAseq log10 TPM", x: 1186, y: 142 - p1Top, font: TITLE_FONT, rot: true },
        { t: "samples", x: 757, y: 335 - p1Top, font: TITLE_FONT, base: "middle" },
      ],
    },
    {
      top: p2Top, height: 320, xMin: -0.7, xMax: 538.2, xTicks: P2_X_TICKS, yMin: -9.5, yMax: 9.63, yTicks: P2_Y_TICKS, decimals: 0,
      padding: { left: 290, right: 46, top: 8, bottom: 2 }, xAxisH: 28, leftW: 77, rightW: 34, xTickPad: 4, yTickPad: 11,
      datasets: bigPanelDatasets(P2_X, P2_BLUE, P2_ORANGE, P2_PINK, P2_MEDIAN, P2_LO, P2_HI, P2_SPLIT, "rgb(204,201,206)", "rgb(227,226,230)", 1.6),
      texts: [
        { t: "P. tricornutum", x: 275, y: 497 - p2Top, font: SPECIES_FONT, align: "right" },
        { t: "c", x: 1054, y: 432 - p2Top, font: LETTER_FONT },
        { t: "microarray log2 ratio", x: 308, y: 500 - p2Top, font: TITLE_FONT, rot: true },
        { t: "RNAseq log10 TPM", x: 1186, y: 488 - p2Top, font: TITLE_FONT, rot: true },
      ],
    },
    {
      top: p3Top, height: 350, xMin: 0.55, xMax: 39.5, xTicks: P3_X_TICKS, yMin: -1.65, yMax: 4.83, yTicks: P3_Y_TICKS, decimals: 1,
      padding: { left: 290, right: 34, top: 37.3, bottom: 1.7 }, xAxisH: 30, leftW: 77, rightW: 46, xTickPad: 2, yTickPad: 9,
      datasets: smallPanelDatasets(P3_X, P3_BLUE, P3_ORANGE, P3_PINK, P3_MEDIAN, P3_LO, P3_HI, P3_BLUE_BOX, P3_ORANGE_BOX, P3_PINK_BOX, 0.78),
      texts: [
        { t: "F. cylindrus", x: 275, y: 847 - p3Top, font: SPECIES_FONT, align: "right" },
        { t: "d", x: 492, y: 704 - p3Top, font: LETTER_FONT },
        { t: "e", x: 1071, y: 703 - p3Top, font: LETTER_FONT },
        { t: "RNAseq log10 TPM", x: 305, y: 836 - p3Top, font: TITLE_FONT, rot: true },
        { t: "RNAseq log10 TPM", x: 1185, y: 836 - p3Top, font: TITLE_FONT, rot: true },
      ],
    },
    {
      top: p4Top, height: 347, xMin: 0.5, xMax: 11.5, xTicks: P4_X_TICKS, yMin: -0.35, yMax: 4.69, yTicks: P4_Y_TICKS, decimals: 1,
      padding: { left: 290, right: 35, top: 36, bottom: 2.3 }, xAxisH: 28, leftW: 77, rightW: 45, xTickPad: 5, yTickPad: 9,
      datasets: smallPanelDatasets(P4_X, P4_BLUE, P4_ORANGE, P4_PINK, P4_MEDIAN, P4_LO, P4_HI, P4_BLUE_BOX, P4_ORANGE_BOX, P4_PINK_BOX, 0.8),
      texts: [
        { t: "P. multiseries", x: 275, y: 1193 - p4Top, font: SPECIES_FONT, align: "right" },
        { t: "f", x: 606, y: 1052 - p4Top, font: LETTER_FONT },
        { t: "RNAseq log10 TPM", x: 305, y: 1186 - p4Top, font: TITLE_FONT, rot: true },
        { t: "RNAseq log10 TPM", x: 1185, y: 1186 - p4Top, font: TITLE_FONT, rot: true },
      ],
    },
  ];
}

function makeChart(canvas: HTMLCanvasElement, p: Panel) {
  const tickGrid = { display: true, drawOnChartArea: false, drawTicks: true, tickLength: 6, color: AXIS_GREY, offset: false };
  const fmt = (v: any) => Number(v).toFixed(p.decimals);
  const yScale = (position: "left" | "right") => ({
    type: "linear",
    position,
    min: p.yMin,
    max: p.yMax,
    grid: tickGrid,
    border: { display: false },
    ticks: {
      font: TICK_FONT,
      color: "#1a1a1a",
      padding: p.yTickPad,
      crossAlign: position === "right" ? "far" : "near",
      callback: fmt,
      autoSkip: false,
    },
    afterBuildTicks: (s: any) => { s.ticks = p.yTicks.map((v) => ({ value: v })); },
    afterFit: (s: any) => {
      s.width = position === "left" ? p.leftW : p.rightW;
      s.paddingTop = 0; s.paddingBottom = 0;
    },
  });
  return new Chart(canvas, {
    type: "bar",
    data: { datasets: p.datasets as any },
    options: {
      animation: false,
      responsive: false,
      maintainAspectRatio: false,
      events: [],
      layout: { padding: p.padding },
      plugins: { legend: { display: false }, tooltip: { enabled: false }, title: { display: false } },
      scales: {
        x: {
          type: "linear",
          position: "bottom",
          min: p.xMin,
          max: p.xMax,
          offset: false,
          grid: tickGrid,
          border: { display: false },
          ticks: { font: TICK_FONT, color: "#1a1a1a", padding: p.xTickPad, maxRotation: 0, autoSkip: false, callback: (v: any) => String(v) },
          afterBuildTicks: (s: any) => { s.ticks = p.xTicks.map((v) => ({ value: v })); },
          afterFit: (s: any) => { s.height = p.xAxisH; s.paddingLeft = 0; s.paddingRight = 0; },
        },
        y: yScale("left"),
        y2: yScale("right"),
      },
    } as any,
    plugins: [framePlugin, textPlugin(p.texts)] as any,
  });
}

export default function App() {
  const refs = useRef<(HTMLCanvasElement | null)[]>([]);
  const panels = buildPanels();
  useEffect(() => {
    document.body.style.margin = "0";
    const ps = buildPanels();
    const charts = ps.map((p, i) => makeChart(refs.current[i] as HTMLCanvasElement, p));
    return () => charts.forEach((c) => c.destroy());
  }, []);
  return (
    <div style={{ position: "relative", width: 1201, height: 1367, background: "#fff", overflow: "hidden" }}>
      {panels.map((p, i) => (
        <canvas
          key={i}
          ref={(el) => { refs.current[i] = el; }}
          width={1201}
          height={p.height}
          style={{ position: "absolute", left: 0, top: p.top, width: 1201, height: p.height }}
        />
      ))}
    </div>
  );
}
